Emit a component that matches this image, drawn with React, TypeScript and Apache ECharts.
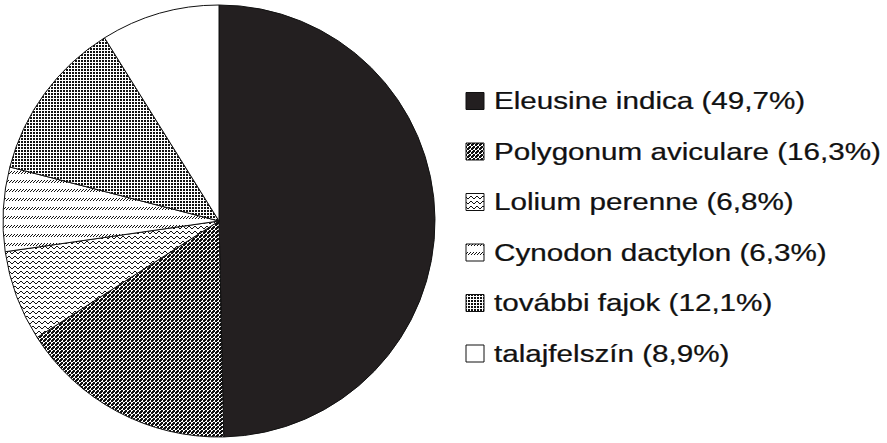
import { useEffect, useRef } from "react";
import * as echarts from "echarts";

const species = [
  "Eleusine indica",
  "Polygonum aviculare",
  "Lolium perenne",
  "Cynodon dactylon",
  "további fajok",
  "talajfelszín",
];
const shares = [49.7, 16.3, 6.8, 6.3, 12.1, 8.9];

// tiny pixel tiles used as fills (black & white print look)
const makeTile = (w: number, h: number, rows: string[]) => {
  const c = document.createElement("canvas");
  c.width = w;
  c.height = h;
  const ctx = c.getContext("2d")!;
  ctx.fillStyle = "#fff";
  ctx.fillRect(0, 0, w, h);
  ctx.fillStyle = "#111";
  rows.forEach((r, y) => {
    for (let x = 0; x < r.length; x++) if (r[x] === "X") ctx.fillRect(x, y, 1, 1);
  });
  return { image: c, repeat: "repeat", imageWidth: w, imageHeight: h } as any;
};

const fills = () => [
  "#231f20",
  makeTile(4, 4, ["XX.X", "X..X", ".XX.", "XXX."]),
  makeTile(6, 5, ["......", "..XX..", ".X..X.", "X....X", "......"]),
  makeTile(3, 9, ["..X", ".X.", "X..", "...", "...", "...", "...", "...", "..."]),
  makeTile(3, 3, ["XX.", "XX.", "..."]),
  "#ffffff",
];

const App = () => {
  const ref = useRef<HTMLDivElement>(null);

  useEffect(() => {
    document.body.style.margin = "0";
    if (!ref.current) return;
    const chart = echarts.init(ref.current, undefined, { renderer: "svg" });
    const colors = fills();

    // legend drawn by hand: the original type is a stretched Helvetica
    const legend = species.flatMap((name, i) => {
      const cy = 101 + i * 50.5;
      return [
        {
          type: "rect",
          shape: { x: 466, y: cy - 8.5, width: 18, height: 17 },
          style: { fill: colors[i], stroke: "#111", lineWidth: 1 },
        },
        {
          type: "text",
          x: 494,
          y: cy,
          scaleX: 1.235,
          style: {
            text: `${name} (${shares[i].toFixed(1).replace(".", ",")}%)`,
            fill: "#111",
            stroke: "#111",
            lineWidth: 0.25,
            fontFamily: "Liberation Sans, Arial",
            fontSize: 24,
            align: "left",
            verticalAlign: "middle",
          },
        },
      ];
    });

    chart.setOption({
      animation: false,
      backgroundColor: "#fff",
      graphic: legend,
      series: [
        {
          type: "pie",
          center: [219, 221],
          radius: 216,
          startAngle: 90,
          clockwise: true,
          label: { show: false },
          labelLine: { show: false },
          emphasis: { disabled: true },
          itemStyle: { borderColor: "#111", borderWidth: 1 },
          data: species.map((name, i) => ({
            name,
            value: shares[i],
            itemStyle: { color: colors[i] },
          })),
        },
      ],
    });

    return () => chart.dispose();
  }, []);

  return <div ref={ref} style={{ width: 887, height: 443 }} />;
};

export default App;
